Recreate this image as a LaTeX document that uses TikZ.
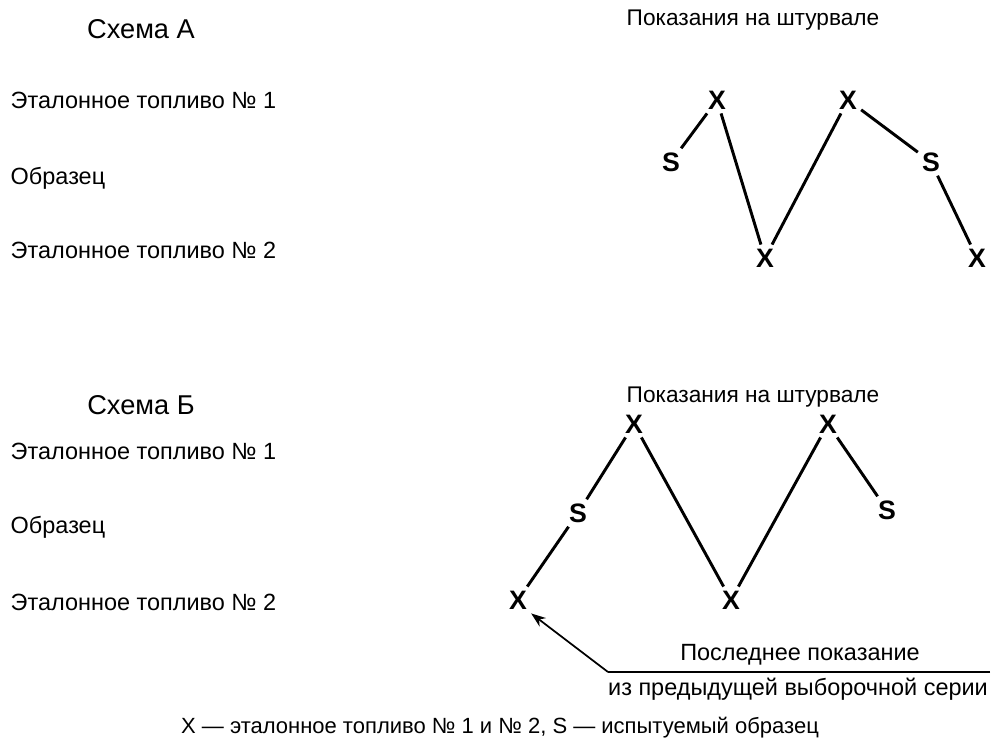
\documentclass[tikz,border=0pt]{standalone}
\usepackage{fontspec}
\setmainfont{Liberation Sans}
\usepackage{tikz}
\usetikzlibrary{calc,positioning,arrows.meta}
\tikzset{
  title/.style={font=\fontsize{20.4}{24}\selectfont},
  head/.style={font=\fontsize{17}{20}\selectfont},
  rowlab/.style={anchor=west,font=\fontsize{17.6}{21}\selectfont},
  reading/.style={inner sep=3pt,font=\bfseries\fontsize{20}{23}\selectfont},
  note/.style={font=\fontsize{17.6}{21}\selectfont},
  legendtxt/.style={font=\fontsize{16.5}{20}\selectfont},
  zig/.style={draw=black,line width=2.2pt},
  pointer/.style={draw=black,line width=1.3pt,-{Stealth[length=11pt,width=8pt]}},
}
\begin{document}
\begin{tikzpicture}[x=0.75pt,y=-0.75pt]
    \useasboundingbox (0,0) rectangle (993,747);

    % Scheme A
    \node[title] (titA) at (141,29) {Схема А};
    \node[head] (headA) at (753,20) {Показания на штурвале};
    \node[rowlab] (refA1) at (6,100) {Эталонное топливо № 1};
    \node[rowlab] (sampA) at (6,178) {Образец};
    \node[rowlab] (refA2) at (6,250) {Эталонное топливо № 2};

    \node[reading] (aS1) at (671,162) {S};
    \node[reading] (aX1) at (717,100) {X};
    \node[reading] (aX2) at (765,258) {X};
    \node[reading] (aX3) at (848,100) {X};
    \node[reading] (aS2) at (931,162) {S};
    \node[reading] (aX4) at (977,258) {X};

    \begin{scope}[every path/.style=zig]
      \path (aS1) -- (aX1);
      \path (aX1) -- (aX2);
      \path (aX2) -- (aX3);
      \path (aX3) -- (aS2);
      \path (aS2) -- (aX4);
    \end{scope}

    % Scheme B
    \node[title] (titB) at (141,405) {Схема Б};
    \node[head] (headB) at (753,397) {Показания на штурвале};
    \node[rowlab] (refB1) at (6,451) {Эталонное топливо № 1};
    \node[rowlab] (sampB) at (6,527) {Образец};
    \node[rowlab] (refB2) at (6,602) {Эталонное топливо № 2};

    \node[reading] (bX0) at (518,600) {X};
    \node[reading] (bS1) at (578,513) {S};
    \node[reading] (bX1) at (634,424) {X};
    \node[reading] (bX2) at (731,600) {X};
    \node[reading] (bX3) at (828,424) {X};
    \node[reading] (bS2) at (887,510) {S};

    \begin{scope}[every path/.style=zig]
      \path (bX0) -- (bS1);
      \path (bS1) -- (bX1);
      \path (bX1) -- (bX2);
      \path (bX2) -- (bX3);
      \path (bX3) -- (bS2);
    \end{scope}

    % last reading of the previous series
    \coordinate (bend) at (608,672);
    \coordinate (lineend) at (990,672);
    \node[note,anchor=south] (last1) at (800,670) {Последнее показание};
    \node[note,anchor=north] (last2) at (798,673) {из предыдущей выборочной серии};
    \draw[line width=1.3pt] (lineend) -- (bend);
    \draw[pointer] (bend) -- (bX0.south east);

    \node[legendtxt] (legend) at (500,728) {X — эталонное топливо № 1 и № 2, S — испытуемый образец};
\end{tikzpicture}
\end{document}
